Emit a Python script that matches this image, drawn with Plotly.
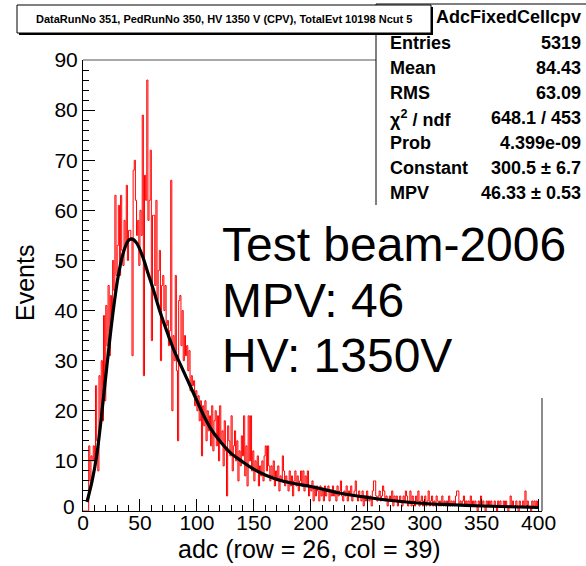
import plotly.graph_objects as go

# ---------------- data ----------------
bin_edges_start = 0
counts = [
    0, 0, 0, 0, 0, 13, 6, 11, 10, 13,
    9, 25, 14, 8, 27, 19, 30, 18, 39, 22,
    41, 33, 45, 31, 43, 38, 50, 44, 63, 47,
    53, 61, 47, 63, 52, 49, 58, 53, 65, 50,
    56, 56, 54, 31, 68, 70, 62, 55, 58, 49,
    60, 55, 79, 27, 67, 62, 86, 58, 62, 72,
    34, 59, 59, 45, 62, 42, 48, 52, 30, 45,
    47, 40, 45, 37, 38, 33, 36, 66, 20, 35,
    30, 47, 28, 14, 42, 43, 33, 40, 30, 35,
    31, 33, 28, 32, 24, 27, 25, 26, 21, 24,
    20, 23, 18, 22, 11, 21, 17, 22, 14, 20,
    16, 19, 13, 21, 12, 18, 20, 13, 19, 10,
    21, 14, 16, 9, 18, 12, 3, 17, 14, 11,
    19, 8, 13, 16, 10, 14, 6, 12, 9, 15,
    11, 19, 7, 13, 5, 19, 10, 19, 8, 12,
    6, 10, 8, 11, 5, 9, 7, 10, 6, 11,
    13, 8, 13, 9, 6, 9, 7, 10, 5, 8,
    6, 9, 4, 7, 6, 11, 8, 5, 7, 6,
    4, 8, 5, 7, 3, 6, 8, 5, 7, 4,
    6, 8, 5, 8, 4, 7, 5, 8, 3, 5,
    4, 6, 2, 5, 3, 5, 4, 2, 5, 3,
    4, 2, 5, 3, 4, 5, 2, 4, 3, 5,
    3, 4, 2, 5, 3, 4, 6, 3, 2, 4,
    3, 5, 2, 4, 3, 5, 2, 3, 4, 6,
    3, 2, 4, 3, 2, 4, 1, 3, 2, 4,
    3, 2, 3, 1, 4, 6, 6, 3, 2, 3,
    4, 2, 3, 5, 4, 2, 3, 1, 2, 3,
    2, 4, 1, 3, 2, 3, 1, 2, 3, 2,
    1, 3, 2, 4, 3, 1, 2, 4, 1, 3,
    2, 1, 3, 2, 4, 1, 2, 3, 1, 2,
    3, 1, 2, 4, 1, 2, 3, 1, 2, 1,
    3, 2, 1, 2, 1, 3, 1, 2, 1, 2,
    1, 3, 1, 2, 1, 2, 1, 3, 4, 4,
    1, 2, 1, 2, 3, 1, 2, 1, 2, 1,
    3, 1, 2, 1, 2, 1, 0, 2, 1, 3,
    1, 2, 1, 0, 2, 1, 2, 1, 2, 1,
    1, 2, 1, 0, 2, 1, 2, 1, 1, 2,
    1, 2, 1, 0, 1, 3, 1, 2, 1, 1,
    2, 1, 0, 2, 1, 1, 2, 1, 4, 1,
    2, 1, 1, 0, 2, 1, 2, 1, 2, 1,
]
bin_width = 1

fit_x = [3.5, 8, 12, 16, 21, 26, 31, 36, 40, 43, 47, 52, 57, 62, 68, 75, 80, 86,
         92, 100, 105, 112, 120, 130, 139, 148, 160, 175, 190, 200, 225, 250,
         275, 300, 325, 350, 375, 400]
fit_y = [1.8, 6, 11, 18.5, 29, 39, 47, 52, 54, 54.3, 53.5, 51, 47.5, 44, 39.5,
         35, 32, 29, 26, 22, 19.5, 16.5, 14, 11.5, 10, 8.6, 7.2, 6.0, 5.3, 4.9,
         3.6, 2.7, 2.0, 1.5, 1.25, 1.0, 0.85, 0.7]

x_ticks = [0, 50, 100, 150, 200, 250, 300, 350, 400]
y_ticks = [0, 10, 20, 30, 40, 50, 60, 70, 80, 90]

title_text = "DataRunNo 351, PedRunNo 350, HV 1350 V (CPV), TotalEvt 10198 Ncut 5"
stats_title = "AdcFixedCellcpv"
stats_labels = ["Entries", "Mean", "RMS", "χ<sup>2</sup> / ndf", "Prob", "Constant", "MPV"]
stats_values = ["5319", "84.43", "63.09", "648.1 / 453", "4.399e-09", "300.5 ± 6.7", "46.33 ± 0.53"]
big_lines = ["Test beam-2006", "MPV: 46", "HV: 1350V"]
x_title = "adc (row = 26, col = 39)"
y_title = "Events"

# ---------------- layout helpers ----------------
W, H = 586, 566
L, R, T, B = 83, 542, 60, 511
FONT = "Liberation Sans, Arial, Helvetica, sans-serif"


def px(x):
    return (x - L) / (R - L)


def py(y):
    return (B - y) / (B - T)


edges = [bin_edges_start + i * bin_width for i in range(len(counts) + 1)]
step_y = counts + [counts[-1]]

fig = go.Figure()
fig.add_trace(go.Scatter(x=edges, y=step_y, mode="lines", line_shape="hv",
                         line=dict(color="#ff0000", width=1), hoverinfo="skip"))
fig.add_trace(go.Scatter(x=fit_x, y=fit_y, mode="lines", line_shape="spline",
                         line=dict(color="black", width=3.2), hoverinfo="skip"))

shapes = []
shapes.append(dict(type="line", xref="paper", yref="paper", x0=px(83), x1=px(376),
                   y0=py(60), y1=py(60), line=dict(color="#555", width=1.2)))
shapes.append(dict(type="line", xref="paper", yref="paper", x0=px(542), x1=px(542),
                   y0=py(398), y1=py(511), line=dict(color="#666", width=1.5)))
shapes.append(dict(type="rect", xref="paper", yref="paper", x0=px(376), x1=px(600),
                   y0=py(230), y1=py(4), fillcolor="white", line=dict(color="black", width=1),
                   layer="above"))
shapes.append(dict(type="rect", xref="paper", yref="paper", x0=px(212), x1=px(600),
                   y0=py(398), y1=py(205), fillcolor="white", line=dict(width=0),
                   layer="above"))
shapes.append(dict(type="rect", xref="paper", yref="paper", x0=px(19), x1=px(433),
                   y0=py(35), y1=py(7), fillcolor="black", line=dict(width=0), layer="above"))
shapes.append(dict(type="rect", xref="paper", yref="paper", x0=px(17), x1=px(431),
                   y0=py(33), y1=py(5), fillcolor="white", line=dict(color="black", width=1),
                   layer="above"))

ann = []
ann.append(dict(text=f"<b>{title_text}</b>", x=px(224), y=py(19), xref="paper", yref="paper",
                xanchor="center", yanchor="middle", showarrow=False,
                font=dict(family=FONT, size=11, color="black")))
ann.append(dict(text=f"<b>{stats_title}</b>", x=px(508), y=py(17), xref="paper", yref="paper",
                xanchor="center", yanchor="middle", showarrow=False,
                font=dict(family=FONT, size=18, color="black")))
for i, (lab, val) in enumerate(zip(stats_labels, stats_values)):
    yy = 43 + 25 * i
    ann.append(dict(text=f"<b>{lab}</b>", x=px(388), y=py(yy), xref="paper", yref="paper",
                    xanchor="left", yanchor="middle", showarrow=False,
                    font=dict(family=FONT, size=18, color="black")))
    ann.append(dict(text=f"<b>{val}</b>", x=px(583), y=py(yy), xref="paper", yref="paper",
                    xanchor="right", yanchor="middle", showarrow=False,
                    font=dict(family=FONT, size=18, color="black")))
for i, line in enumerate(big_lines):
    ann.append(dict(text=line, x=px(220), y=py(245 + 55 * i), xref="paper", yref="paper",
                    xanchor="left", yanchor="middle", showarrow=False,
                    font=dict(family=FONT, size=48, color="black")))
ann.append(dict(text=x_title, x=px(309), y=py(549), xref="paper", yref="paper",
                xanchor="center", yanchor="middle", showarrow=False,
                font=dict(family=FONT, size=25, color="black")))
ann.append(dict(text=y_title, x=px(25), y=py(283), xref="paper", yref="paper",
                xanchor="center", yanchor="middle", showarrow=False, textangle=-90,
                font=dict(family=FONT, size=25, color="black")))
ann.append(dict(text="0", x=px(77), y=py(506), xref="paper", yref="paper",
                xanchor="right", yanchor="middle", showarrow=False,
                font=dict(family=FONT, size=21, color="black")))

fig.update_layout(
    width=W, height=H,
    margin=dict(l=L, r=W - R, t=T, b=H - B),
    paper_bgcolor="white", plot_bgcolor="white",
    showlegend=False,
    shapes=shapes, annotations=ann,
    xaxis=dict(range=[0, 403], tickvals=x_ticks, ticktext=[str(v) for v in x_ticks],
               ticks="inside", ticklen=12, tickwidth=1, tickcolor="black",
               ticklabelstandoff=-7,
               showline=True, linecolor="black", linewidth=1, mirror=False,
               showgrid=False, zeroline=False,
               minor=dict(dtick=10, ticklen=6, ticks="inside", tickcolor="black", showgrid=False),
               tickfont=dict(family=FONT, size=21, color="black")),
    yaxis=dict(range=[0, 90], tickvals=y_ticks, ticktext=[" "] + [str(v) for v in y_ticks[1:]],
               ticks="inside", ticklen=12, tickwidth=1, tickcolor="black",
               showline=True, linecolor="black", linewidth=1, mirror=False,
               showgrid=False, zeroline=False,
               minor=dict(dtick=2, ticklen=6, ticks="inside", tickcolor="black", showgrid=False),
               tickfont=dict(family=FONT, size=21, color="black")),
)

fig.write_html("out.html")
